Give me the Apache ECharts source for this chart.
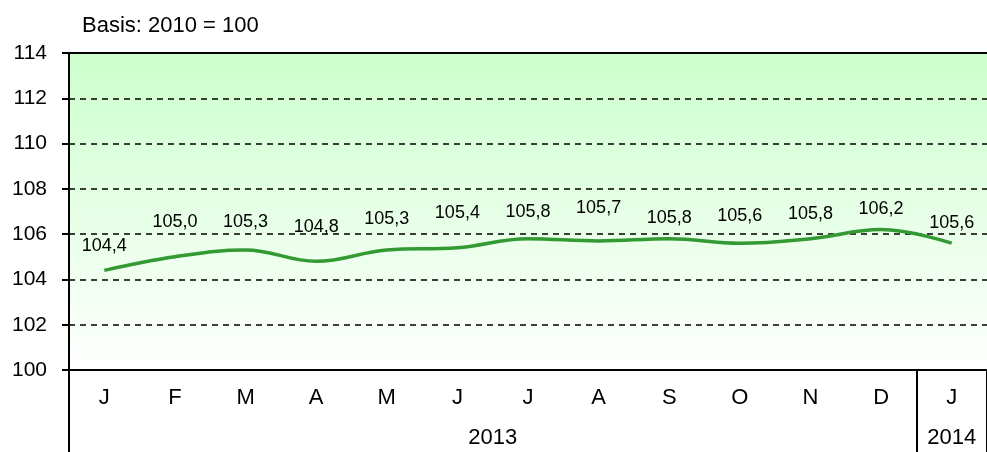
<!DOCTYPE html>
<html>
<head>
<meta charset="utf-8">
<script src="https://cdn.jsdelivr.net/npm/echarts@6/dist/echarts.min.js"></script>
<style>
  html, body { margin: 0; padding: 0; background: #fff; }
  #chart { width: 987px; height: 452px; }
</style>
</head>
<body>
<div id="chart"></div>
<script>
// data
const months = ['J', 'F', 'M', 'A', 'M', 'J', 'J', 'A', 'S', 'O', 'N', 'D', 'J'];
const values = [104.4, 105.0, 105.3, 104.8, 105.3, 105.4, 105.8, 105.7, 105.8, 105.6, 105.8, 106.2, 105.6];
const years = [{ label: '2013', center: 6 }, { label: '2014', center: 12.5 }];
const yearBreaks = [0, 12];
const yTicks = { min: 100, max: 114, step: 2 };

// how far each value label sits above its point (px), as placed in the original
const labelLift = [24, 34, 27, 34, 30, 34, 26, 32, 20, 27, 24, 20, 20];

const font = 'Liberation Sans, Arial, sans-serif';
const chart = echarts.init(document.getElementById('chart'));

const option = {
    animation: false,
    title: {
        text: 'Basis: 2010 = 100',
        left: 77,
        top: 10,
        textStyle: { fontFamily: font, fontSize: 22, fontWeight: 'normal', color: '#000' },
    },
    grid: {
        left: 69, right: -6, top: 53, bottom: 82,
        show: true,
        borderWidth: 0,
        backgroundColor: new echarts.graphic.LinearGradient(0, 0, 0, 1, [
            { offset: 0, color: '#ccffcc' },
            { offset: 1, color: '#ffffff' },
        ]),
    },
    xAxis: [
        {
            type: 'category',
            data: months,
            boundaryGap: true,
            axisLine: { lineStyle: { color: '#000', width: 2 } },
            axisTick: { show: false },
            axisLabel: { fontFamily: font, fontSize: 22, color: '#000', margin: 17, interval: 0 },
        },
        {
            // year row
            type: 'value',
            position: 'bottom',
            min: 0, max: 13, interval: 0.5,
            axisLine: { show: false },
            axisTick: { show: false },
            splitLine: { show: false },
            axisLabel: {
                fontFamily: font, fontSize: 22, color: '#000', margin: 57,
                showMinLabel: false, showMaxLabel: false,
                formatter: v => {
                    const y = years.find(t => t.center === v);
                    return y ? y.label : '';
                },
            },
        },
        {
            // year separators
            type: 'value',
            position: 'bottom',
            min: yearBreaks[0], max: 13, interval: yearBreaks[1],
            axisLine: { show: false },
            axisLabel: { show: false },
            splitLine: { show: false },
            axisTick: { show: true, length: 84, lineStyle: { color: '#000', width: 2 } },
        },
        {
            type: 'category',
            position: 'top',
            data: months,
            axisLine: { lineStyle: { color: '#000', width: 2 } },
            axisTick: { show: false },
            axisLabel: { show: false },
        },
    ],
    yAxis: {
        type: 'value',
        min: yTicks.min, max: yTicks.max, interval: yTicks.step,
        axisLine: { show: true, lineStyle: { color: '#000', width: 2 } },
        axisTick: { show: true, length: 7, lineStyle: { color: '#000', width: 2 } },
        axisLabel: { fontFamily: font, fontSize: 21, color: '#000', margin: 22 },
        splitLine: { show: true, lineStyle: { color: '#000', type: [6, 5], width: 1.5 } },
    },
    series: [
        {
            type: 'line',
            data: values.map((v, i) => ({ value: v, label: { distance: labelLift[i] - 9 } })),
            smooth: 0.4,
            symbol: 'circle',
            symbolSize: 1,
            showSymbol: true,
            itemStyle: { color: 'rgba(0,0,0,0)' },
            lineStyle: { color: '#339933', width: 3.5 },
            label: {
                show: true,
                position: 'top',
                fontFamily: font,
                fontSize: 18,
                color: '#000',
                formatter: p => p.value.toFixed(1).replace('.', ','),
            },
        },
    ],
};
chart.setOption(option);
</script>
</body>
</html>
